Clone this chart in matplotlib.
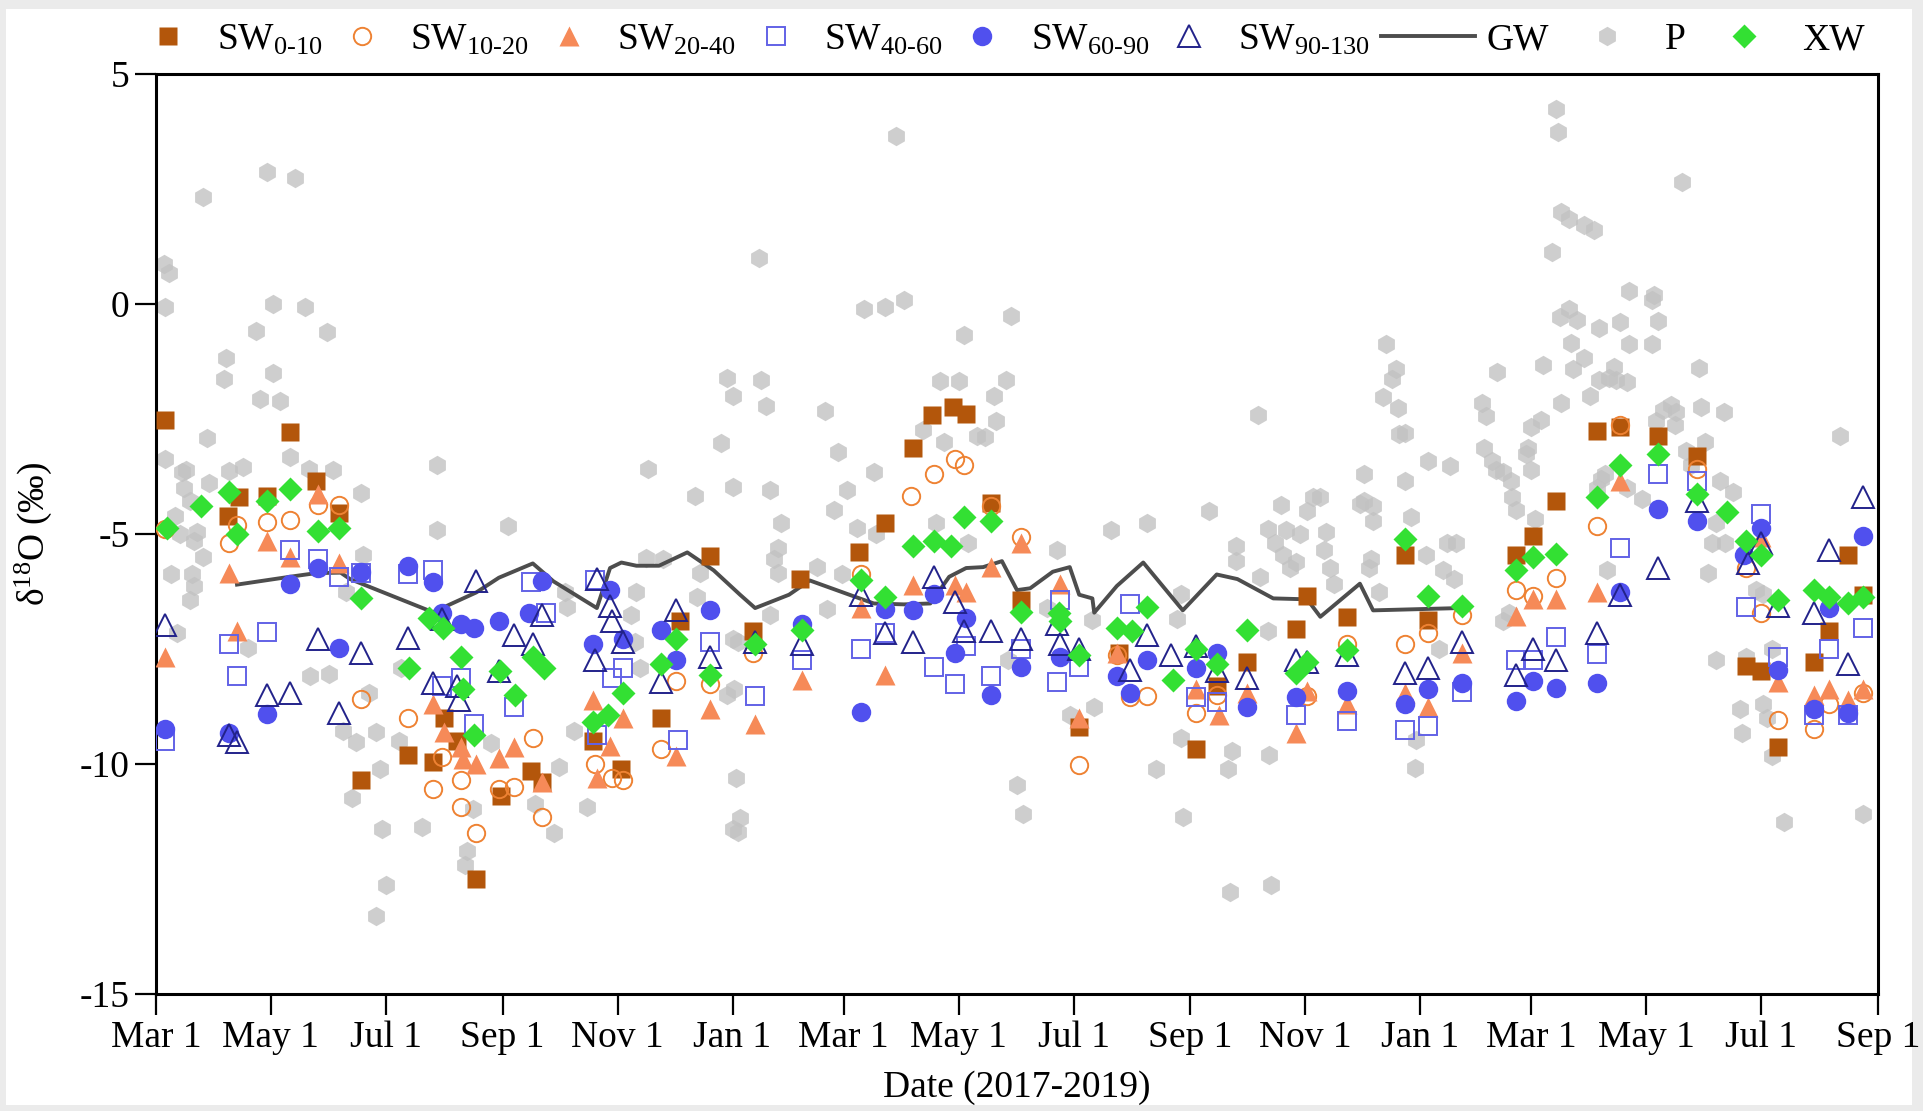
import numpy as np
import pandas as pd
import matplotlib
matplotlib.use('Agg')
import matplotlib.pyplot as plt
from matplotlib.patches import Rectangle

START = pd.Timestamp('2017-03-01')
END = pd.Timestamp('2019-09-01')

# ---- data (day offset from 2017-03-01, delta 18O in permil) ----
sw0_10_day = [5, 38, 44, 59, 71, 85, 97, 109, 134, 147, 153, 160, 170, 183, 199, 205, 232, 247, 268, 278,
              294, 317, 342, 373, 387, 402, 412, 423, 430, 443, 459, 490, 511, 552, 563, 579, 605, 611, 632, 663,
              675, 722, 731, 743, 765, 777, 797, 818, 844, 852, 861, 880, 888, 898, 906]
sw0_10_val = [-2.52, -4.6, -4.2, -4.17, -2.79, -3.85, -4.55, -10.35, -9.8, -9.95, -9.0, -9.5, -12.5, -10.7, -10.16, -10.4, -9.5, -10.1, -9.0, -6.9,
              -5.47, -7.1, -5.98, -5.4, -4.77, -3.12, -2.42, -2.24, -2.39, -4.33, -6.44, -9.2, -7.58, -9.67, -8.3, -7.78, -7.07, -6.34, -6.8, -5.45,
              -6.88, -5.45, -5.04, -4.28, -2.75, -2.68, -2.87, -3.31, -7.87, -7.97, -9.62, -7.78, -7.1, -5.45, -6.32]

sw10_20_day = [5, 39, 43, 59, 71, 86, 97, 109, 134, 147, 152, 162, 162, 170, 182, 190, 200, 205, 233, 242,
               248, 268, 276, 294, 317, 374, 401, 413, 424, 429, 443, 459, 490, 510, 517, 526, 552, 563, 611, 632,
               663, 675, 693, 722, 731, 743, 765, 777, 818, 844, 852, 861, 880, 888, 906]
sw10_20_val = [-4.9, -5.2, -4.8, -4.74, -4.69, -4.38, -4.36, -8.58, -8.99, -10.54, -9.84, -10.35, -10.93, -11.5, -10.54, -10.5, -9.43, -11.16, -10.0, -10.3,
               -10.35, -9.67, -8.2, -8.26, -7.58, -5.86, -4.18, -3.7, -3.36, -3.5, -4.4, -5.06, -10.03, -7.63, -8.55, -8.53, -8.89, -8.5, -8.53, -7.39,
               -7.39, -7.15, -6.76, -6.22, -6.34, -5.95, -4.82, -2.63, -3.58, -5.74, -6.71, -9.04, -9.23, -8.7, -8.46]

sw20_40_day = [5, 39, 43, 59, 71, 86, 97, 147, 153, 162, 163, 170, 182, 190, 205, 232, 234, 241, 248, 276,
               294, 318, 343, 374, 387, 402, 424, 430, 443, 459, 480, 490, 510, 552, 564, 579, 605, 611, 632, 663,
               675, 693, 722, 731, 743, 765, 777, 852, 861, 880, 888, 898, 906]
sw20_40_val = [-7.68, -5.84, -7.1, -5.16, -5.5, -4.14, -5.64, -8.7, -9.3, -9.62, -9.9, -10.0, -9.86, -9.62, -10.4, -8.6, -10.3, -9.6, -9.0, -9.82,
               -8.8, -9.14, -8.17, -6.61, -8.07, -6.11, -6.11, -6.27, -5.71, -5.2, -6.08, -8.99, -7.58, -8.36, -8.94, -8.46, -9.33, -8.41, -8.7, -8.46,
               -8.75, -7.58, -6.79, -6.42, -6.42, -6.27, -3.85, -5.06, -8.21, -8.5, -8.36, -8.6, -8.36]

sw40_60_day = [5, 39, 43, 59, 71, 86, 97, 109, 134, 147, 152, 162, 169, 190, 199, 207, 233, 234, 242, 248,
               277, 294, 318, 343, 374, 387, 413, 424, 430, 443, 459, 478, 480, 490, 517, 552, 563, 605, 632, 663,
               675, 693, 722, 731, 743, 765, 777, 797, 818, 844, 852, 861, 880, 888, 898, 906]
sw40_60_val = [-9.5, -7.39, -8.09, -7.12, -5.35, -5.54, -5.93, -5.84, -5.86, -5.79, -8.31, -8.12, -9.14, -8.75, -6.05, -6.71, -6.0, -9.38, -8.12, -7.92,
               -9.48, -7.34, -8.53, -7.73, -7.49, -7.15, -7.89, -8.26, -7.44, -8.09, -7.49, -8.21, -6.44, -7.89, -6.52, -8.55, -8.65, -8.94, -9.06, -9.25,
               -9.18, -8.44, -7.73, -7.73, -7.24, -7.6, -5.3, -3.7, -3.85, -6.59, -4.57, -7.68, -8.94, -7.49, -8.94, -7.05]

sw60_90_day = [5, 39, 59, 71, 86, 97, 109, 134, 147, 152, 162, 169, 182, 198, 205, 232, 241, 248, 268, 276,
               294, 343, 374, 387, 402, 413, 424, 430, 443, 459, 480, 510, 517, 526, 552, 563, 579, 605, 632, 663,
               675, 693, 722, 731, 743, 765, 777, 797, 818, 843, 852, 861, 880, 888, 898, 906]
sw60_90_val = [-9.23, -9.33, -8.92, -6.08, -5.74, -7.47, -5.82, -5.69, -6.05, -6.71, -6.95, -7.05, -6.9, -6.71, -6.03, -7.39, -6.22, -7.29, -7.08, -7.73,
               -6.66, -6.95, -8.87, -6.63, -6.66, -6.3, -7.58, -6.83, -8.5, -7.89, -7.68, -8.09, -8.46, -7.73, -7.92, -7.58, -8.75, -8.55, -8.41, -8.7,
               -8.36, -8.24, -8.63, -8.19, -8.34, -8.24, -6.27, -4.46, -4.72, -5.45, -4.86, -7.95, -8.8, -6.61, -8.89, -5.04]

sw90_130_day = [5, 39, 43, 59, 71, 86, 97, 109, 134, 147, 152, 160, 161, 170, 182, 190, 200, 205, 233, 234,
                241, 242, 248, 268, 276, 294, 318, 343, 374, 387, 402, 413, 424, 429, 443, 459, 478, 480, 490, 517,
                526, 539, 552, 563, 579, 605, 611, 632, 663, 675, 693, 722, 731, 743, 765, 777, 797, 818, 845, 852,
                861, 880, 888, 898, 906]
sw90_130_val = [-6.98, -9.38, -9.52, -8.5, -8.46, -7.29, -8.9, -7.58, -7.27, -8.24, -6.85, -8.31, -8.6, -6.03, -7.97, -7.2, -7.39, -6.76, -7.73, -5.98,
                -6.56, -6.9, -7.34, -8.21, -6.66, -7.68, -7.34, -7.39, -6.32, -7.15, -7.34, -5.93, -6.47, -7.1, -7.1, -7.29, -6.95, -7.39, -7.49, -7.95,
                -7.19, -7.63, -7.44, -7.97, -8.12, -7.73, -7.78, -7.63, -8.02, -7.92, -7.34, -8.07, -7.49, -7.73, -7.15, -6.32, -5.74, -4.28, -5.64, -5.2,
                -6.56, -6.71, -5.35, -7.83, -4.19]

gw_day = [43, 71, 85, 98, 103, 147, 170, 182, 200, 211, 234, 241, 247, 255, 267, 282, 296, 310, 318, 336,
          347, 368, 381, 397, 411, 421, 430, 439, 449, 457, 464, 476, 485, 490, 497, 498, 510, 524, 545, 563,
          574, 593, 611, 618, 639, 646, 692]
gw_val = [-6.1, -5.93, -5.85, -5.84, -5.98, -6.7, -6.27, -5.95, -5.64, -6.03, -6.61, -5.74, -5.62, -5.69, -5.69, -5.4, -5.79, -6.32, -6.61, -6.32,
          -6.01, -6.32, -6.51, -6.53, -6.51, -5.93, -5.74, -5.72, -5.59, -6.22, -6.18, -5.82, -5.72, -6.32, -6.4, -6.71, -6.13, -5.62, -6.66, -5.88,
          -5.98, -6.4, -6.42, -6.8, -6.08, -6.66, -6.61]

p_day = [4, 7, 5, 25, 59, 74, 62, 79, 53, 91, 37, 36, 62, 55, 66, 27, 5, 14, 16, 15,
         28, 39, 46, 71, 81, 94, 109, 18, 22, 20, 8, 19, 20, 18, 11, 49, 82, 92, 110, 101,
         149, 149, 113, 99, 106, 117, 129, 119, 104, 120, 141, 122, 117, 130, 10, 25, 13,
         306, 300, 261, 286, 306, 187, 260, 269, 255, 289, 252, 254, 287, 306, 303, 257, 217, 218, 178, 214,
         201, 211, 229, 165, 164, 168, 222, 308, 306, 320, 303, 321, 324,
         376, 387, 397, 393, 429, 454, 416, 426, 451, 445, 446, 407, 418, 436, 440, 362, 381, 355, 326, 367,
         360, 332, 372, 382, 414, 431, 330, 328, 330, 351, 364, 326, 356, 309, 307, 310, 309, 457, 460, 452,
         585, 507, 526, 559, 597, 600, 614, 478, 573, 573, 598, 602, 586, 544, 542, 497, 590, 473, 485, 498,
         544, 531, 545, 571, 569, 591, 570, 592, 594, 605, 607, 590, 611,
         653, 658, 656, 651, 659, 660, 663, 675, 687, 641, 663, 618, 641, 646, 639, 646, 666, 645, 644, 649,
         674, 685, 690, 683, 689, 620, 623, 625, 621, 681, 669, 668, 712, 704, 706, 705, 709, 715, 711, 719,
         720, 722, 718, 715, 728, 730, 735, 736, 727, 730, 732, 746, 750, 754, 751, 758, 752, 761, 766, 765, 767,
         743, 744, 746, 741, 750, 758, 763, 745, 766, 782, 795, 810,
         794, 777, 797, 782, 794, 819, 775, 781, 804, 807, 820, 806, 822, 830, 837, 828, 826, 824, 833, 849,
         853, 828, 844, 858, 841, 842, 853, 855, 858, 864, 906, 894, 789, 770, 781, 769, 774, 771, 796, 800,
         812, 815, 832]
p_val = [0.87, 0.68, -0.06, 2.33, 2.87, 2.73, 0.01, -0.06, -0.59, -0.61, -1.18, -1.64, -1.49, -2.07, -2.1, -2.92, -3.36, -3.65, -3.6, -3.99,
         -3.89, -3.62, -3.55, -3.33, -3.58, -3.6, -4.11, -4.28, -4.96, -5.16, -5.86, -5.86, -6.13, -6.44, -7.15, -7.47, -8.09, -8.05, -5.45, -6.27,
         -3.49, -4.91, -8.46, -9.28, -9.52, -9.31, -9.5, -10.1, -10.74, -11.42, -11.37, -12.63, -13.31, -7.92, -4.6, -5.5, -5.0,
         -2.0, -3.02, -3.58, -4.17, -3.97, -4.82, -5.53, -5.55, -6.27, -5.84, -6.76, -7.34, -6.37, -7.29, -8.5, -7.92, -6.27, -6.59, -9.54, -10.06,
         -10.88, -11.5, -10.93, -11.9, -12.2, -10.98, -9.28, -10.3, -11.42, 1.0, -1.6, -1.66, -2.22,
         -0.11, -0.06, 0.09, 3.65, -0.67, -0.25, -1.68, -1.68, -1.66, -2.0, -2.54, -2.73, -3.0, -2.87, -2.9, -3.22, -3.65, -2.32, -4.04, -4.04,
         -4.48, -4.77, -4.86, -5.01, -4.77, -5.2, -5.3, -5.54, -5.84, -5.72, -5.86, -6.76, -6.63, -7.34, -8.36, -11.18, -11.47, -10.45, -11.08, -7.73,
         -2.42, -4.91, -4.75, -4.5, -4.38, -4.91, -4.19, -5.35, -5.25, -5.59, -5.45, -5.74, -5.93, -6.3, -6.85, -6.88, -7.1, -6.61, -8.94, -8.75,
         -9.43, -10.1, -11.16, -9.72, -10.1, -9.8, -12.78, -12.63, -5.2, -5.6, -5.0, -4.9, -4.5,
         -0.88, -1.42, -1.64, -2.03, -2.26, -2.83, -2.8, -3.41, -3.52, -3.7, -3.85, -4.19, -4.28, -4.4, -4.35, -4.72, -4.62, -5.54, -5.74, -6.27,
         -5.45, -5.2, -5.2, -5.79, -5.98, -5.35, -5.74, -6.08, -4.96, -7.49, -9.48, -10.09, -1.47, -2.15, -2.44, -3.12, -3.41, -3.65, -3.6, -3.85,
         -4.19, -4.48, -6.71, -6.9, -3.12, -2.68, -2.53, -1.32, -3.26, -3.6, -4.67, -2.15, -0.11, -0.35, -0.84, -1.18, -1.42, -2.0, -1.66, -4.0, -3.8,
         4.25, 3.75, 2.01, 1.13, 1.85, 1.72, 1.6, -0.28, -0.52, 0.28, 0.2, 2.65,
         0.09, -0.4, -0.38, -0.86, -0.86, -1.39, -1.66, -1.7, -2.2, -2.35, -2.24, -2.63, -3.0, -3.85, -4.09, -4.77, -5.2, -5.84, -5.2, -6.22,
         -6.3, -7.73, -7.68, -7.49, -8.8, -9.33, -8.7, -9.0, -9.82, -11.27, -11.08, -2.87, -4.23, -5.79, -4.0, -3.7, -1.37, -1.6, -2.54, -2.3,
         -3.2, -3.5, -2.35]

xw_day = [5.6, 24, 39, 43, 59, 71, 86, 97, 109, 134.5, 145, 152.5, 162, 163, 169, 182.5, 190.5, 200, 206, 232,
          240, 248, 268, 276, 294, 318, 343, 374, 387, 402, 413, 422, 429, 443, 459, 479.5, 480, 490, 510, 518,
          526, 540, 552, 563, 579, 605, 611, 632, 663, 675, 693, 722, 731, 743, 765, 777, 797, 818, 834, 844,
          852, 861, 880, 888, 898, 906]
xw_val = [-4.86, -4.4, -4.09, -4.99, -4.28, -4.02, -4.94, -4.86, -6.4, -7.92, -6.83, -7.05, -7.68, -8.36, -9.38, -7.97, -8.5, -7.68, -7.92, -9.09,
          -8.94, -8.46, -7.83, -7.29, -8.07, -7.39, -7.08, -6.01, -6.37, -5.25, -5.16, -5.25, -4.62, -4.72, -6.69, -6.71, -6.9, -7.63, -7.05, -7.1,
          -6.59, -8.17, -7.49, -7.83, -7.08, -8.02, -7.78, -7.53, -5.11, -6.34, -6.56, -5.79, -5.5, -5.43, -4.19, -3.49, -3.26, -4.14, -4.52, -5.16,
          -5.45, -6.44, -6.22, -6.37, -6.51, -6.37]

x_tick_labels = ['Mar 1', 'May 1', 'Jul 1', 'Sep 1', 'Nov 1', 'Jan 1', 'Mar 1', 'May 1',
                 'Jul 1', 'Sep 1', 'Nov 1', 'Jan 1', 'Mar 1', 'May 1', 'Jul 1', 'Sep 1']
y_ticks = [-15, -10, -5, 0, 5]
y_tick_labels = ['-15', '-10', '-5', '0', '5']


def dates(days):
    return START + pd.to_timedelta(np.asarray(days, dtype=float), unit='D')


SERIF = 'Liberation Serif'
plt.rcParams['font.family'] = [SERIF, 'DejaVu Serif']
plt.rcParams['mathtext.fontset'] = 'custom'
plt.rcParams['mathtext.rm'] = SERIF
plt.rcParams['mathtext.it'] = SERIF + ':italic'
plt.rcParams['mathtext.bf'] = SERIF + ':bold'
plt.rcParams['mathtext.default'] = 'rm'

W, H = 1924, 1111
fig = plt.figure(figsize=(W / 100, H / 100), dpi=100, facecolor='#EBEBEB')
fig.patches.append(Rectangle((6 / W, 6 / H), (W - 18) / W, (H - 15) / H,
                             transform=fig.transFigure, facecolor='white',
                             edgecolor='none', zorder=-10))
ax = fig.add_axes([156 / W, 1 - 994 / H, 1722 / W, 920 / H])
ax.set_facecolor('white')

hP, = ax.plot(dates(p_day), p_val, ls='none', marker='h', ms=14,
              color='#C2C2C2', mec='none', alpha=0.8, zorder=1)
hGW, = ax.plot(dates(gw_day), gw_val, color='#4D4D4D', lw=2.8, zorder=2)
h1, = ax.plot(dates(sw0_10_day), sw0_10_val, ls='none', marker='s', ms=13,
              color='#B3560B', mec='none', zorder=3)
h2, = ax.plot(dates(sw10_20_day), sw10_20_val, ls='none', marker='o', ms=12.5,
              mfc='none', mec='#EE8233', mew=1.4, zorder=3)
h3, = ax.plot(dates(sw20_40_day), sw20_40_val, ls='none', marker='^', ms=15,
              color='#F68A58', mec='none', zorder=3)
h4, = ax.plot(dates(sw40_60_day), sw40_60_val, ls='none', marker='s', ms=12.5,
              mfc='none', mec='#6262E6', mew=1.4, zorder=3)
h5, = ax.plot(dates(sw60_90_day), sw60_90_val, ls='none', marker='o', ms=14,
              color='#5050EE', mec='none', zorder=3)
h6, = ax.plot(dates(sw90_130_day), sw90_130_val, ls='none', marker='^', ms=15.5,
              mfc='none', mec='#22228A', mew=1.4, zorder=3)
h7, = ax.plot(dates(xw_day), xw_val, ls='none', marker='D', ms=12,
              color='#33E033', mec='none', zorder=4)

ax.set_xlim(START, END)
ax.set_ylim(-15, 5)
xt = pd.date_range(START, END, freq='2MS')
ax.set_xticks(xt)
ax.set_xticklabels(x_tick_labels, fontfamily=SERIF)
ax.set_yticks(y_ticks)
ax.set_yticklabels(y_tick_labels, fontfamily=SERIF)
ax.tick_params(direction='out', length=15, width=1.6, labelsize=27, pad=4,
               colors='black')
for s in ax.spines.values():
    s.set_linewidth(2.2)

ax.set_xlabel('Date (2017-2019)', fontsize=27, fontfamily=SERIF)
ax.xaxis.set_label_coords(0.5, -0.083)
ax.set_ylabel(r'$\mathrm{δ^{18}O\ (‰)}$', fontsize=27)
ax.yaxis.set_label_coords(-0.059, 0.5)

sw_handles = [h1, h2, h3, h4, h5, h6]
sw_labels = [r'SW$_{\mathrm{0\text{-}10}}$', r'SW$_{\mathrm{10\text{-}20}}$',
             r'SW$_{\mathrm{20\text{-}40}}$', r'SW$_{\mathrm{40\text{-}60}}$',
             r'SW$_{\mathrm{60\text{-}90}}$', r'SW$_{\mathrm{90\text{-}130}}$']
fig.legend(sw_handles, sw_labels, ncol=6, loc='center left',
           bbox_to_anchor=(0.0697, 0.964), bbox_transform=fig.transFigure,
           frameon=False, fontsize=27, handlelength=1.8, handletextpad=0.4,
           columnspacing=0.15, borderpad=0, borderaxespad=0)
fig.legend([hGW, hP, h7], ['GW', 'P', 'XW'], ncol=3, loc='center left',
           bbox_to_anchor=(0.7178, 0.964), bbox_transform=fig.transFigure,
           frameon=False, fontsize=27, handlelength=2.5, handletextpad=0.3,
           columnspacing=0.3, borderpad=0, borderaxespad=0)

fig.savefig('out.png', dpi=100, facecolor=fig.get_facecolor())
